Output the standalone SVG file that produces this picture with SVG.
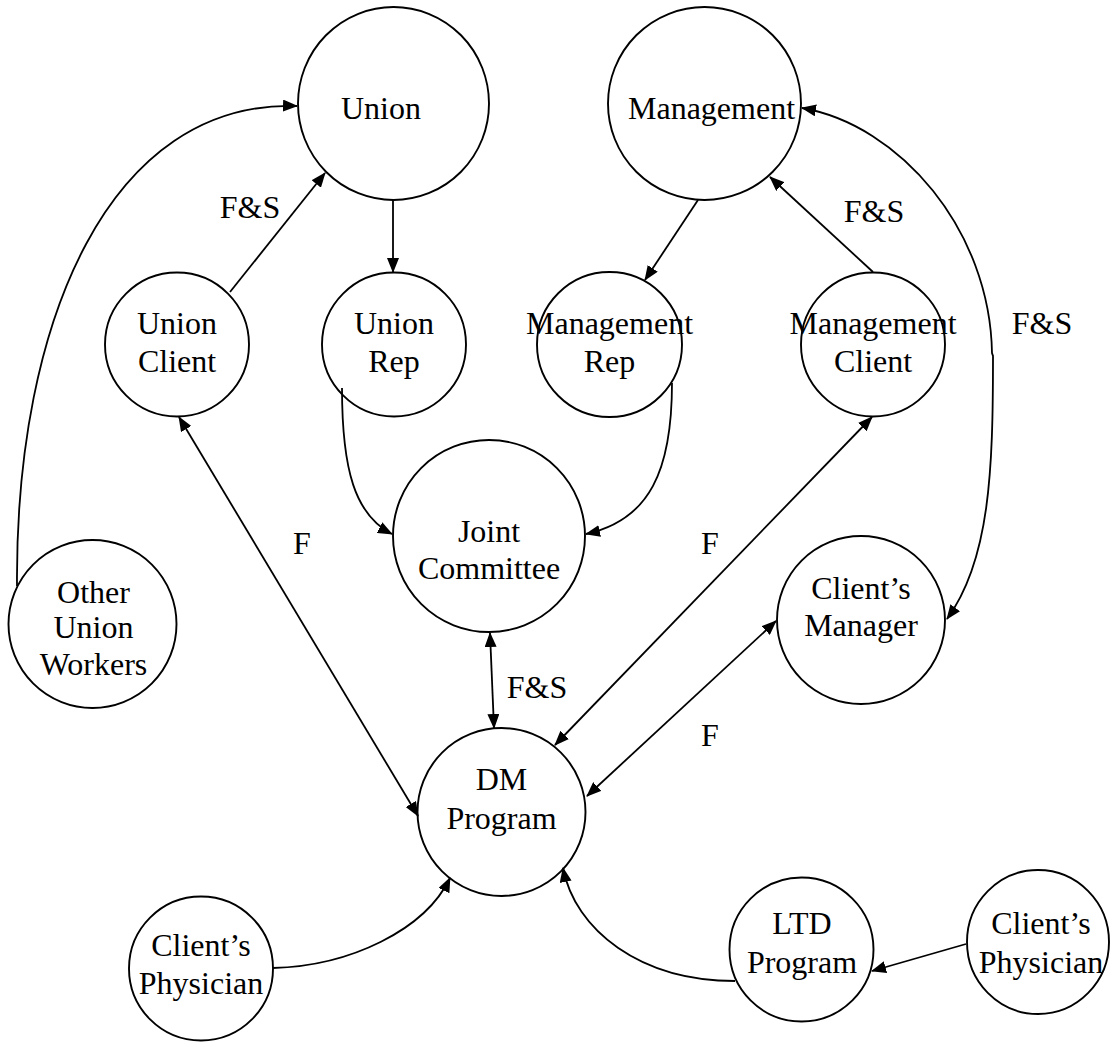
<svg xmlns="http://www.w3.org/2000/svg" width="1110" height="1042" viewBox="0 0 1110 1042">
<style>
  .node { fill: none; stroke: #000; stroke-width: 1.9; }
  .lbl { font-family: "Liberation Serif", "DejaVu Serif", serif; font-size: 32px; fill: #000; text-anchor: middle; }
  .edge { fill: none; stroke: #000; stroke-width: 1.8; }
  .a1 { marker-end: url(#arr); }
  .a2 { marker-start: url(#arr); marker-end: url(#arr); }
</style>
<defs>
  <marker id="arr" viewBox="0 0 15 12" refX="14" refY="6" markerWidth="15" markerHeight="12" markerUnits="userSpaceOnUse" orient="auto-start-reverse">
    <path d="M0,0 L15,6 L0,12 z" fill="#000"/>
  </marker>
</defs>
<rect width="1110" height="1042" fill="#fff"/>

<g id="connectors">
  <path class="edge a1" d="M17,586 C15,320 110,100 297,106"/>
  <line class="edge a1" x1="230" y1="292" x2="325" y2="173"/>
  <line class="edge a1" x1="393" y1="200" x2="393" y2="272"/>
  <line class="edge a1" x1="698" y1="200" x2="645" y2="280"/>
  <line class="edge a1" x1="873" y1="272" x2="770" y2="177"/>
  <path class="edge a2" d="M802,108 C900,125 990,230 992,353 L993,356 C993,470 990,560 947,619"/>
  <path class="edge a1" d="M342,388 C342,470 355,515 392,534"/>
  <path class="edge a1" d="M672,383 C672,470 650,520 586,534"/>
  <line class="edge a2" x1="179" y1="417" x2="418" y2="816"/>
  <line class="edge a2" x1="490" y1="633" x2="494" y2="728"/>
  <line class="edge a2" x1="872" y1="417" x2="555" y2="745"/>
  <line class="edge a2" x1="776" y1="621" x2="587" y2="796"/>
  <path class="edge a1" d="M273,968 C350,966 425,930 450,878"/>
  <path class="edge a1" d="M735,981 C640,981 575,930 563,868"/>
  <line class="edge a1" x1="966" y1="944" x2="872" y2="971"/>
  <text class="lbl" x="250" y="218">F&amp;S</text>
  <text class="lbl" x="874" y="222">F&amp;S</text>
  <text class="lbl" x="1042" y="334">F&amp;S</text>
  <text class="lbl" x="302" y="554">F</text>
  <text class="lbl" x="710" y="554">F</text>
  <text class="lbl" x="537" y="698">F&amp;S</text>
  <text class="lbl" x="710" y="746">F</text>
</g>

<g id="union">
  <ellipse class="node" cx="393.5" cy="103.5" rx="95.5" ry="96.5"/>
  <text class="lbl" x="381" y="119">Union</text>
</g>
<g id="management">
  <ellipse class="node" cx="704.5" cy="103.5" rx="96.5" ry="96.5"/>
  <text class="lbl" x="711.5" y="119">Management</text>
</g>
<g id="union-client">
  <circle class="node" cx="177" cy="344.5" r="72"/>
  <text class="lbl" x="177" y="334">Union</text>
  <text class="lbl" x="177" y="372">Client</text>
</g>
<g id="union-rep">
  <circle class="node" cx="394" cy="344.5" r="72"/>
  <text class="lbl" x="394" y="334">Union</text>
  <text class="lbl" x="394" y="372">Rep</text>
</g>
<g id="management-rep">
  <circle class="node" cx="609.5" cy="344.5" r="72.5"/>
  <text class="lbl" x="609.5" y="334">Management</text>
  <text class="lbl" x="609.5" y="372">Rep</text>
</g>
<g id="management-client">
  <circle class="node" cx="873" cy="344.5" r="72"/>
  <text class="lbl" x="873" y="334">Management</text>
  <text class="lbl" x="873" y="372">Client</text>
</g>
<g id="joint-committee">
  <circle class="node" cx="489" cy="536" r="96"/>
  <text class="lbl" x="489" y="542">Joint</text>
  <text class="lbl" x="489" y="579">Committee</text>
</g>
<g id="other-union-workers">
  <circle class="node" cx="92.5" cy="624" r="84"/>
  <text class="lbl" x="93.5" y="603">Other</text>
  <text class="lbl" x="93.5" y="638">Union</text>
  <text class="lbl" x="93.5" y="675">Workers</text>
</g>
<g id="clients-manager">
  <circle class="node" cx="861" cy="620" r="84"/>
  <text class="lbl" x="861" y="599">Client&#8217;s</text>
  <text class="lbl" x="861" y="636">Manager</text>
</g>
<g id="dm-program">
  <circle class="node" cx="501.5" cy="812" r="84"/>
  <text class="lbl" x="501.5" y="790">DM</text>
  <text class="lbl" x="501.5" y="829">Program</text>
</g>
<g id="clients-physician-left">
  <circle class="node" cx="201" cy="968.5" r="72"/>
  <text class="lbl" x="201" y="956">Client&#8217;s</text>
  <text class="lbl" x="201" y="994">Physician</text>
</g>
<g id="ltd-program">
  <circle class="node" cx="801.5" cy="949.5" r="72"/>
  <text class="lbl" x="802" y="934">LTD</text>
  <text class="lbl" x="802" y="973">Program</text>
</g>
<g id="clients-physician-right">
  <ellipse class="node" cx="1038" cy="942" rx="71" ry="72"/>
  <text class="lbl" x="1041" y="934">Client&#8217;s</text>
  <text class="lbl" x="1041" y="973">Physician</text>
</g>
</svg>
